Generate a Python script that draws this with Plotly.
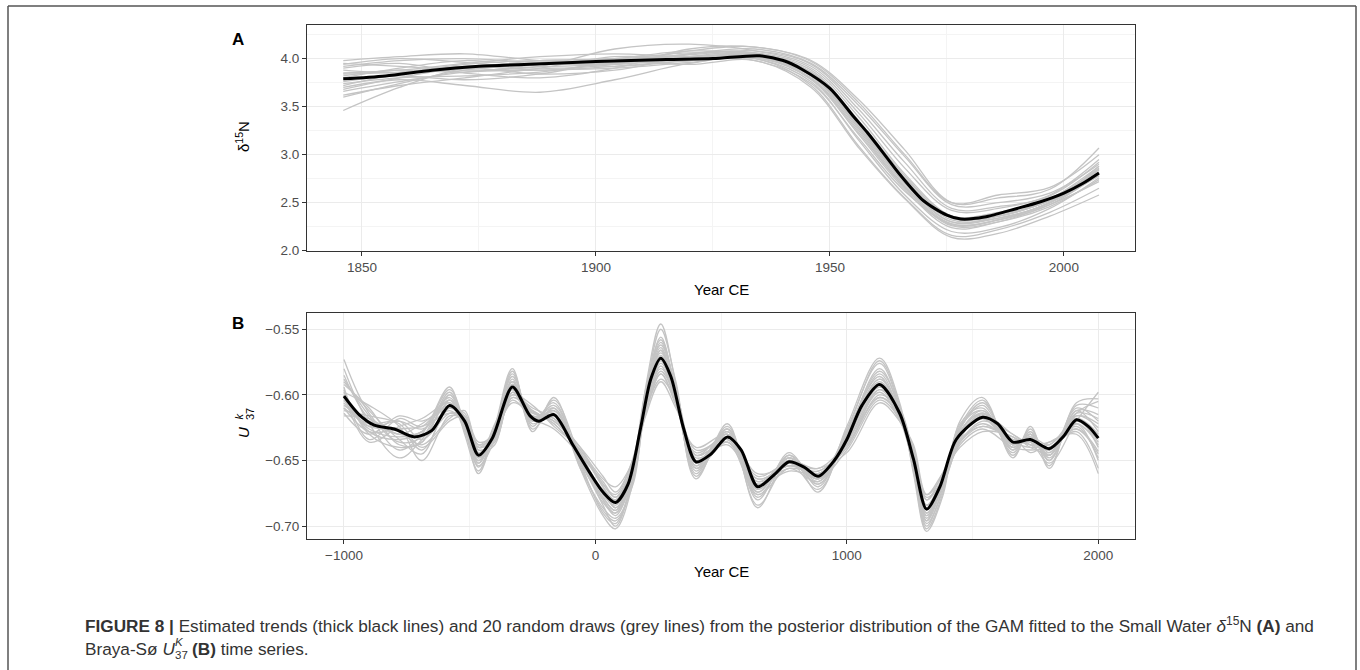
import plotly.graph_objects as go

# ---------------- Panel A: Small Water d15N ----------------
year_a_trend = [1846, 1855, 1865, 1875, 1890, 1900, 1915, 1925, 1935, 1940, 1944,
                1950, 1955, 1958, 1962, 1965, 1970, 1975, 1978, 1983, 1990, 1995,
                2000, 2004, 2007.5]
d15n_trend = [3.79, 3.82, 3.88, 3.92, 3.95, 3.97, 3.99, 4.00, 4.03, 3.98, 3.89,
              3.69, 3.40, 3.23, 2.98, 2.79, 2.52, 2.37, 2.33, 2.35, 2.44, 2.51,
              2.60, 2.70, 2.81]

year_a_draw = [1846, 1858, 1872, 1888, 1904, 1920, 1934, 1946, 1956, 1966, 1976,
               1986, 1997, 2007.5]
d15n_draws = [
    [3.98, 4.02, 4.05, 3.98, 3.95, 4.05, 4.10, 3.95, 3.52, 2.98, 2.48, 2.50, 2.60, 2.90],
    [3.62, 3.72, 3.80, 3.90, 4.02, 4.00, 3.98, 3.74, 3.18, 2.62, 2.28, 2.32, 2.50, 2.78],
    [3.46, 3.70, 3.90, 3.95, 3.92, 3.98, 4.05, 3.84, 3.30, 2.70, 2.30, 2.36, 2.52, 2.82],
    [3.90, 3.95, 3.85, 3.80, 3.90, 4.10, 4.12, 3.98, 3.58, 3.05, 2.50, 2.55, 2.64, 3.07],
    [3.70, 3.78, 3.72, 3.65, 3.78, 3.95, 4.00, 3.72, 3.10, 2.55, 2.16, 2.22, 2.40, 2.65],
    [3.85, 3.88, 3.95, 4.02, 4.05, 4.02, 4.05, 3.88, 3.36, 2.76, 2.36, 2.40, 2.54, 2.85],
    [3.95, 3.92, 3.88, 3.92, 4.10, 4.15, 4.08, 3.92, 3.44, 2.86, 2.42, 2.44, 2.58, 2.95],
    [3.66, 3.76, 3.86, 3.88, 3.90, 3.96, 4.02, 3.78, 3.22, 2.64, 2.24, 2.30, 2.48, 2.72],
    [3.80, 3.90, 3.98, 3.92, 3.95, 4.05, 4.06, 3.85, 3.32, 2.72, 2.30, 2.34, 2.50, 2.88],
    [3.74, 3.80, 3.82, 3.86, 3.96, 3.98, 4.00, 3.76, 3.16, 2.58, 2.20, 2.24, 2.44, 2.76],
    [3.88, 3.85, 3.90, 3.98, 4.00, 4.08, 4.04, 3.82, 3.28, 2.68, 2.28, 2.32, 2.48, 2.80],
    [3.60, 3.74, 3.88, 3.95, 3.98, 3.94, 3.98, 3.70, 3.08, 2.54, 2.14, 2.18, 2.36, 2.58],
    [3.92, 3.98, 4.00, 3.96, 3.98, 4.04, 4.08, 3.94, 3.48, 2.92, 2.44, 2.46, 2.57, 2.92],
    [3.78, 3.82, 3.78, 3.84, 3.98, 4.06, 4.02, 3.82, 3.30, 2.72, 2.32, 2.34, 2.50, 2.86],
    [3.84, 3.86, 3.92, 3.95, 3.94, 4.00, 4.04, 3.86, 3.34, 2.74, 2.34, 2.38, 2.52, 2.84],
    [3.68, 3.80, 3.90, 3.84, 3.88, 4.02, 4.06, 3.90, 3.40, 2.80, 2.36, 2.36, 2.52, 2.78],
    [3.72, 3.84, 3.94, 3.98, 3.96, 4.00, 4.03, 3.80, 3.26, 2.66, 2.26, 2.30, 2.46, 2.74],
    [3.94, 4.00, 3.96, 3.90, 3.94, 4.08, 4.12, 3.97, 3.55, 3.00, 2.50, 2.58, 2.66, 3.00],
    [3.76, 3.84, 3.92, 3.88, 3.92, 3.98, 4.01, 3.79, 3.24, 2.66, 2.27, 2.32, 2.50, 2.80],
    [3.82, 3.88, 3.86, 3.94, 4.00, 4.02, 4.04, 3.86, 3.36, 2.78, 2.34, 2.36, 2.54, 2.88],
]

# ---------------- Panel B: Braya-So UK37 ----------------
year_b_trend = [-1000, -940, -880, -800, -720, -650, -580, -520, -465, -410, -330,
                -260, -225, -165, -90, -20, 30, 80, 130, 180, 220, 260, 300, 350,
                400, 460, 525, 580, 645, 710, 770, 830, 886, 950, 1000, 1060, 1130,
                1210, 1265, 1317, 1370, 1435, 1540, 1600, 1660, 1730, 1805, 1860,
                1913, 1960, 2000]
uk37_trend = [-0.601, -0.615, -0.623, -0.626, -0.632, -0.627, -0.608, -0.620,
              -0.646, -0.633, -0.594, -0.616, -0.620, -0.615, -0.638, -0.660,
              -0.674, -0.682, -0.668, -0.625, -0.588, -0.572, -0.586, -0.625,
              -0.651, -0.645, -0.632, -0.642, -0.670, -0.661, -0.651, -0.655,
              -0.662, -0.650, -0.634, -0.608, -0.592, -0.614, -0.649, -0.687,
              -0.670, -0.634, -0.617, -0.622, -0.636, -0.634, -0.641, -0.632,
              -0.619, -0.624, -0.633]

year_b_draw = [-1000, -900, -780, -690, -580, -520, -465, -400, -330, -250, -165,
               -60, 30, 80, 150, 200, 260, 320, 400, 525, 645, 770, 886, 1000,
               1130, 1210, 1265, 1317, 1380, 1450, 1540, 1660, 1730, 1805, 1913,
               2000]
uk37_draws = [
    [-0.585, -0.618, -0.630, -0.628, -0.596, -0.622, -0.655, -0.628, -0.584, -0.620, -0.608, -0.652, -0.690, -0.698, -0.660, -0.600, -0.556, -0.598, -0.658, -0.628, -0.678, -0.648, -0.668, -0.630, -0.580, -0.612, -0.655, -0.700, -0.672, -0.626, -0.606, -0.640, -0.630, -0.646, -0.610, -0.620],
    [-0.610, -0.628, -0.626, -0.624, -0.614, -0.618, -0.638, -0.632, -0.602, -0.613, -0.620, -0.642, -0.664, -0.670, -0.650, -0.612, -0.588, -0.604, -0.642, -0.634, -0.664, -0.654, -0.658, -0.638, -0.602, -0.616, -0.644, -0.676, -0.662, -0.634, -0.624, -0.632, -0.638, -0.636, -0.626, -0.645],
    [-0.596, -0.630, -0.640, -0.636, -0.600, -0.624, -0.650, -0.624, -0.590, -0.622, -0.612, -0.650, -0.680, -0.690, -0.652, -0.596, -0.562, -0.594, -0.654, -0.626, -0.674, -0.646, -0.664, -0.628, -0.586, -0.618, -0.652, -0.694, -0.668, -0.624, -0.612, -0.642, -0.628, -0.648, -0.614, -0.605],
    [-0.612, -0.616, -0.622, -0.640, -0.620, -0.616, -0.642, -0.636, -0.598, -0.612, -0.622, -0.644, -0.670, -0.686, -0.664, -0.610, -0.578, -0.606, -0.648, -0.638, -0.668, -0.658, -0.660, -0.640, -0.596, -0.610, -0.646, -0.690, -0.670, -0.636, -0.620, -0.630, -0.640, -0.644, -0.622, -0.650],
    [-0.590, -0.612, -0.634, -0.645, -0.604, -0.626, -0.660, -0.626, -0.582, -0.624, -0.604, -0.648, -0.684, -0.700, -0.662, -0.598, -0.550, -0.590, -0.660, -0.624, -0.680, -0.644, -0.670, -0.626, -0.576, -0.610, -0.658, -0.702, -0.676, -0.622, -0.610, -0.644, -0.626, -0.650, -0.612, -0.628],
    [-0.606, -0.624, -0.620, -0.626, -0.612, -0.622, -0.640, -0.628, -0.600, -0.610, -0.618, -0.640, -0.668, -0.676, -0.648, -0.606, -0.580, -0.598, -0.646, -0.630, -0.666, -0.650, -0.656, -0.636, -0.598, -0.620, -0.642, -0.680, -0.660, -0.632, -0.618, -0.638, -0.632, -0.638, -0.618, -0.640],
    [-0.580, -0.622, -0.648, -0.634, -0.606, -0.628, -0.654, -0.634, -0.588, -0.626, -0.610, -0.656, -0.686, -0.694, -0.668, -0.604, -0.566, -0.602, -0.656, -0.636, -0.676, -0.656, -0.666, -0.632, -0.588, -0.612, -0.650, -0.696, -0.664, -0.628, -0.614, -0.634, -0.636, -0.652, -0.620, -0.598],
    [-0.614, -0.630, -0.616, -0.620, -0.610, -0.614, -0.636, -0.630, -0.604, -0.618, -0.626, -0.646, -0.666, -0.678, -0.654, -0.614, -0.584, -0.608, -0.644, -0.632, -0.662, -0.652, -0.664, -0.642, -0.604, -0.618, -0.640, -0.678, -0.666, -0.638, -0.626, -0.640, -0.642, -0.640, -0.628, -0.656],
    [-0.598, -0.608, -0.624, -0.650, -0.616, -0.620, -0.648, -0.622, -0.596, -0.616, -0.614, -0.650, -0.678, -0.688, -0.658, -0.602, -0.568, -0.596, -0.652, -0.628, -0.672, -0.648, -0.666, -0.632, -0.590, -0.616, -0.654, -0.692, -0.670, -0.630, -0.615, -0.630, -0.638, -0.646, -0.616, -0.625],
    [-0.604, -0.626, -0.632, -0.628, -0.604, -0.618, -0.644, -0.638, -0.592, -0.614, -0.616, -0.644, -0.676, -0.684, -0.656, -0.608, -0.574, -0.604, -0.650, -0.634, -0.670, -0.650, -0.660, -0.636, -0.594, -0.614, -0.648, -0.688, -0.666, -0.632, -0.616, -0.634, -0.634, -0.642, -0.620, -0.636],
    [-0.573, -0.614, -0.636, -0.632, -0.598, -0.624, -0.652, -0.626, -0.586, -0.620, -0.606, -0.654, -0.688, -0.696, -0.664, -0.596, -0.558, -0.596, -0.662, -0.626, -0.684, -0.652, -0.672, -0.628, -0.574, -0.608, -0.656, -0.698, -0.674, -0.624, -0.604, -0.646, -0.628, -0.654, -0.608, -0.610],
    [-0.608, -0.620, -0.628, -0.638, -0.618, -0.612, -0.640, -0.634, -0.600, -0.608, -0.624, -0.642, -0.670, -0.680, -0.652, -0.610, -0.582, -0.602, -0.646, -0.636, -0.666, -0.656, -0.658, -0.640, -0.600, -0.612, -0.646, -0.684, -0.664, -0.636, -0.622, -0.636, -0.640, -0.638, -0.624, -0.648],
    [-0.594, -0.634, -0.618, -0.624, -0.602, -0.626, -0.650, -0.632, -0.592, -0.618, -0.612, -0.652, -0.680, -0.692, -0.660, -0.600, -0.564, -0.600, -0.654, -0.630, -0.674, -0.648, -0.662, -0.630, -0.584, -0.614, -0.650, -0.692, -0.668, -0.628, -0.612, -0.638, -0.632, -0.646, -0.614, -0.618],
    [-0.616, -0.618, -0.630, -0.622, -0.608, -0.616, -0.638, -0.628, -0.606, -0.614, -0.620, -0.640, -0.662, -0.674, -0.650, -0.616, -0.590, -0.610, -0.640, -0.630, -0.660, -0.654, -0.656, -0.644, -0.606, -0.620, -0.638, -0.676, -0.660, -0.640, -0.628, -0.632, -0.644, -0.636, -0.630, -0.660],
    [-0.588, -0.616, -0.642, -0.630, -0.594, -0.630, -0.658, -0.624, -0.580, -0.628, -0.602, -0.656, -0.692, -0.702, -0.666, -0.594, -0.546, -0.592, -0.664, -0.622, -0.686, -0.646, -0.674, -0.624, -0.572, -0.606, -0.660, -0.704, -0.678, -0.620, -0.602, -0.648, -0.624, -0.656, -0.606, -0.603],
    [-0.602, -0.624, -0.626, -0.642, -0.610, -0.620, -0.644, -0.630, -0.596, -0.616, -0.618, -0.648, -0.672, -0.680, -0.654, -0.606, -0.576, -0.600, -0.650, -0.632, -0.668, -0.652, -0.662, -0.634, -0.592, -0.616, -0.648, -0.686, -0.664, -0.630, -0.618, -0.636, -0.636, -0.642, -0.622, -0.638],
    [-0.600, -0.636, -0.624, -0.618, -0.606, -0.618, -0.642, -0.636, -0.598, -0.620, -0.616, -0.646, -0.674, -0.686, -0.656, -0.604, -0.570, -0.598, -0.652, -0.628, -0.670, -0.650, -0.664, -0.636, -0.596, -0.618, -0.644, -0.684, -0.670, -0.634, -0.614, -0.640, -0.630, -0.644, -0.618, -0.630],
    [-0.592, -0.610, -0.638, -0.636, -0.600, -0.622, -0.652, -0.624, -0.590, -0.618, -0.610, -0.650, -0.682, -0.690, -0.662, -0.602, -0.560, -0.596, -0.656, -0.626, -0.676, -0.650, -0.668, -0.630, -0.582, -0.610, -0.652, -0.696, -0.670, -0.626, -0.608, -0.642, -0.630, -0.650, -0.612, -0.615],
    [-0.610, -0.622, -0.620, -0.634, -0.614, -0.616, -0.640, -0.632, -0.602, -0.612, -0.622, -0.644, -0.668, -0.678, -0.652, -0.612, -0.584, -0.606, -0.646, -0.636, -0.664, -0.654, -0.660, -0.638, -0.602, -0.616, -0.642, -0.680, -0.664, -0.636, -0.624, -0.634, -0.638, -0.640, -0.626, -0.643],
    [-0.598, -0.628, -0.634, -0.628, -0.604, -0.624, -0.648, -0.628, -0.592, -0.620, -0.612, -0.648, -0.678, -0.688, -0.658, -0.604, -0.566, -0.598, -0.652, -0.630, -0.672, -0.648, -0.664, -0.632, -0.588, -0.614, -0.650, -0.690, -0.668, -0.628, -0.614, -0.638, -0.632, -0.646, -0.616, -0.622],
]

x_ticks_a = [1850, 1900, 1950, 2000]
y_ticks_a = [2.0, 2.5, 3.0, 3.5, 4.0]
x_ticks_b = [-1000, 0, 1000, 2000]
y_ticks_b = [-0.70, -0.65, -0.60, -0.55]

FONT = "Liberation Sans, Arial, sans-serif"
DRAW_COLOR = "rgb(196,196,196)"
GRID_MAJOR = "#EBEBEB"
GRID_MINOR = "#F4F4F4"
FRAME = "#333333"

fig = go.Figure()

for draw in d15n_draws:
    fig.add_trace(go.Scatter(x=year_a_draw, y=draw, mode="lines",
                             line=dict(color=DRAW_COLOR, width=1.3, shape="spline", smoothing=1.0),
                             xaxis="x", yaxis="y", hoverinfo="skip"))
fig.add_trace(go.Scatter(x=year_a_trend, y=d15n_trend, mode="lines",
                         line=dict(color="black", width=3, shape="spline", smoothing=0.8),
                         xaxis="x", yaxis="y"))

for draw in uk37_draws:
    fig.add_trace(go.Scatter(x=year_b_draw, y=draw, mode="lines",
                             line=dict(color=DRAW_COLOR, width=1.3, shape="spline", smoothing=1.0),
                             xaxis="x2", yaxis="y2", hoverinfo="skip"))
fig.add_trace(go.Scatter(x=year_b_trend, y=uk37_trend, mode="lines",
                         line=dict(color="black", width=3, shape="spline", smoothing=0.8),
                         xaxis="x2", yaxis="y2"))

W, H = 1360, 670
x_dom = [307 / W, 1135 / W]
ya_dom = [1 - 251 / H, 1 - 25 / H]
yb_dom = [1 - 539 / H, 1 - 313 / H]

tick_font = dict(family=FONT, size=13.5, color="#4D4D4D")
axis_common = dict(showline=True, linecolor=FRAME, linewidth=1, mirror=True,
                   ticks="outside", ticklen=4, tickcolor=FRAME, tickwidth=1,
                   tickfont=tick_font, gridcolor=GRID_MAJOR, gridwidth=1.2,
                   zeroline=False, showgrid=True, automargin=False)

fig.update_layout(
    width=W, height=H,
    margin=dict(l=0, r=0, t=0, b=0, pad=0, autoexpand=False),
    paper_bgcolor="white", plot_bgcolor="white",
    showlegend=False,
    xaxis=dict(domain=x_dom, anchor="y", range=[1838.25, 2015.2],
               tickvals=x_ticks_a,
               minor=dict(tickvals=[1875, 1925, 1975], showgrid=True,
                          gridcolor=GRID_MINOR, gridwidth=1, ticks=""),
               **axis_common),
    yaxis=dict(domain=ya_dom, anchor="x", range=[1.997, 4.35],
               tickvals=y_ticks_a, tickformat=".1f",
               minor=dict(tickvals=[2.25, 2.75, 3.25, 3.75, 4.25], showgrid=True,
                          gridcolor=GRID_MINOR, gridwidth=1, ticks=""),
               **axis_common),
    xaxis2=dict(domain=x_dom, anchor="y2", range=[-1147, 2146],
                tickvals=x_ticks_b,
                minor=dict(tickvals=[-500, 500, 1500], showgrid=True,
                           gridcolor=GRID_MINOR, gridwidth=1, ticks=""),
                **axis_common),
    yaxis2=dict(domain=yb_dom, anchor="x2", range=[-0.7098, -0.5376],
                tickvals=y_ticks_b, tickformat=".2f",
                minor=dict(tickvals=[-0.675, -0.625, -0.575], showgrid=True,
                           gridcolor=GRID_MINOR, gridwidth=1, ticks=""),
                **axis_common),
)

def px(x, y, text, size=15, color="black", xanchor="center", yanchor="middle", angle=0):
    fig.add_annotation(x=x / W, y=1 - y / H, xref="paper", yref="paper", text=text,
                       showarrow=False, xanchor=xanchor, yanchor=yanchor, textangle=angle,
                       font=dict(family=FONT, size=size, color=color))

# panel letters
px(238, 40, "<b>A</b>", size=17)
px(238, 323, "<b>B</b>", size=17)

# axis titles
px(721, 290, "Year CE", size=15)
px(721, 571, "Year CE", size=15)
px(243, 137, "δ<sup>15</sup>N", size=15, angle=-90)
px(244, 433, "<i>U</i>", size=15, angle=-90)
px(238.5, 416, "<i>k</i>", size=11, angle=-90)
px(250, 414, "37", size=11, angle=-90)

# caption
CAP = "#333333"
CAP_SIZE = 17.2
px(83, 625, "<b>FIGURE 8 |</b> Estimated trends (thick black lines) and 20 random draws "
   "(grey lines) from the posterior distribution of the GAM fitted to the Small Water "
   "<i>δ</i><sup>15</sup>N <b>(A)</b> and", size=CAP_SIZE, color=CAP, xanchor="left")
px(83, 649, "Braya-Sø <i>U</i>", size=CAP_SIZE, color=CAP, xanchor="left")
px(173, 642, "<i>K</i>", size=11.5, color=CAP, xanchor="left")
px(172.5, 655, "37", size=11.5, color=CAP, xanchor="left")
px(190, 649, "<b>(B)</b> time series.", size=CAP_SIZE, color=CAP, xanchor="left")

# outer figure frame: left, top and right edges (bottom edge lies below the page)
frame_line = dict(color="#555555", width=1.5)
fx0, fx1, fy = 8 / W, 1356 / W, 1 - 6 / H
fig.add_shape(type="line", xref="paper", yref="paper", x0=fx0, x1=fx0, y0=0, y1=fy, line=frame_line)
fig.add_shape(type="line", xref="paper", yref="paper", x0=fx0, x1=fx1, y0=fy, y1=fy, line=frame_line)
fig.add_shape(type="line", xref="paper", yref="paper", x0=fx1, x1=fx1, y0=0, y1=fy, line=frame_line)

fig.write_html("out.html")
